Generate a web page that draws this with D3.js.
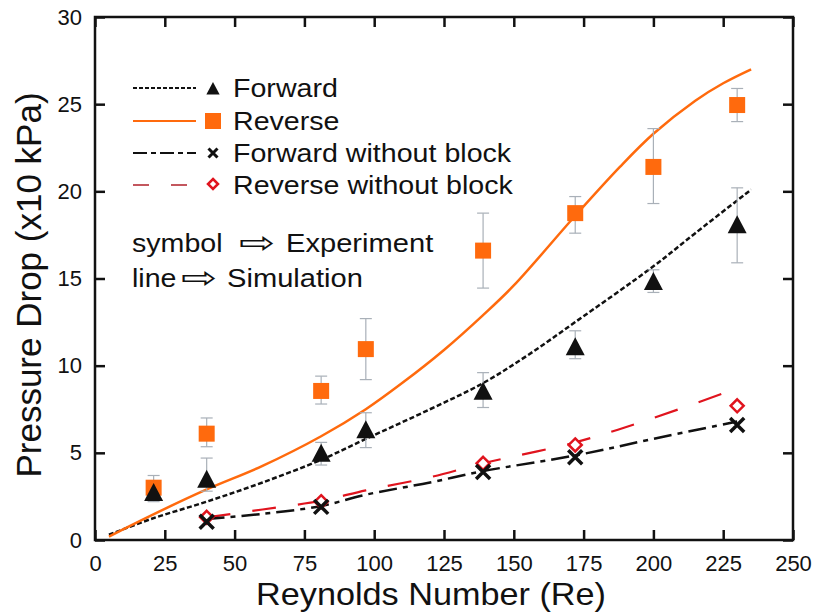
<!DOCTYPE html>
<html>
<head>
<meta charset="utf-8">
<script src="https://cdn.jsdelivr.net/npm/d3@7"></script>
<style>
    body { margin: 0; background: #fff; }
    text { font-family: "Liberation Sans", Arial, sans-serif; fill: #111; }
</style>
</head>
<body>
<script>

// Experiment points (Re, pressure drop in x10 kPa)
var reExp = [21, 40, 81, 97, 139, 172, 200, 230];
var fwdExp = [2.7, 3.45, 4.95, 6.3, 8.5, 11.05, 14.8, 18.05];
var fwdLo = [2.2, 2.8, 4.3, 5.3, 7.6, 10.4, 14.2, 15.9];
var fwdHi = [3.3, 4.7, 5.6, 7.3, 9.6, 12.0, 15.5, 20.2];
var revExp = [3.0, 6.1, 8.55, 10.95, 16.6, 18.75, 21.4, 24.95];
var revLo = [2.3, 5.35, 7.8, 9.2, 14.45, 17.6, 19.3, 24.0];
var revHi = [3.7, 7.0, 9.4, 12.7, 18.75, 19.7, 23.6, 25.9];

var reNoBlock = [40, 81, 139, 172, 230];
var fwdNoBlockExp = [1.05, 1.9, 3.9, 4.75, 6.6];
var revNoBlockExp = [1.3, 2.2, 4.4, 5.45, 7.7];

// Simulation curves
var reSimFwd = [5, 20, 40, 60, 81, 97, 120, 139, 155, 172, 200, 215, 235];
var fwdSim = [0.3, 1.2, 2.2, 3.3, 4.6, 5.8, 7.5, 9.0, 10.6, 12.5, 15.7, 17.6, 20.1];
var reSimRev = [5, 20, 40, 60, 81, 97, 110, 125, 139, 150, 172, 188, 200, 215, 225, 235];
var revSim = [0.2, 1.4, 2.9, 4.25, 5.95, 7.5, 9.0, 10.9, 12.9, 14.6, 18.6, 21.4, 23.3, 25.2, 26.2, 27.0];
var reSimNoBlock = [40, 60, 81, 97, 120, 139, 172, 200, 230];
var fwdNoBlockSim = [1.2, 1.5, 1.95, 2.6, 3.3, 3.95, 4.85, 5.8, 6.8];
var revNoBlockSim = [1.3, 1.75, 2.25, 2.85, 3.6, 4.4, 5.6, 7.0, 8.7];

var xTicks = [0, 25, 50, 75, 100, 125, 150, 175, 200, 225, 250];
var yTicks = [0, 5, 10, 15, 20, 25, 30];

var legendLabels = ["Forward", "Reverse", "Forward without block", "Reverse without block"];
var noteWords = [["symbol", "Experiment"], ["line", "Simulation"]];

var orange = "#ff6a0d", red = "#e0141e", errColor = "#a9b0b8";

function drawChart() {

    ////////////////////////////
    // SVG viewport and scales
    var width = 815, height = 612;
    var pLeft = 95, pRight = 793, pTop = 17, pBottom = 540;

    var svg = d3.select("body").append("svg")
        .attr("width", width)
        .attr("height", height);

    var x = d3.scaleLinear().domain([0, 250]).range([pLeft, pRight]);
    var y = d3.scaleLinear().domain([0, 30]).range([pBottom, pTop]);

    ////////////////////////////
    // Axes (ticks pointing inward on all four sides)
    var tickLen = 10;
    svg.append("g").attr("transform", "translate(0," + pBottom + ")")
        .call(d3.axisBottom(x).tickValues(xTicks).tickSizeInner(-tickLen).tickSizeOuter(0).tickPadding(15));
    svg.append("g").attr("transform", "translate(0," + pTop + ")")
        .call(d3.axisTop(x).tickValues(xTicks).tickSizeInner(-tickLen).tickSizeOuter(0).tickFormat(""));
    svg.append("g").attr("transform", "translate(" + pLeft + ",0)")
        .call(d3.axisLeft(y).tickValues(yTicks).tickSizeInner(-tickLen).tickSizeOuter(0).tickPadding(13));
    svg.append("g").attr("transform", "translate(" + pRight + ",0)")
        .call(d3.axisRight(y).tickValues(yTicks).tickSizeInner(-tickLen).tickSizeOuter(0).tickFormat(""));

    svg.selectAll(".domain").remove();
    svg.selectAll(".tick line").attr("stroke", "#111").attr("stroke-width", 2.5);
    svg.selectAll(".tick text")
        .style("font-family", "Liberation Sans, Arial, sans-serif")
        .style("font-size", "22px")
        .attr("fill", "#222");

    // frame
    svg.append("rect")
        .attr("x", pLeft).attr("y", pTop)
        .attr("width", pRight - pLeft).attr("height", pBottom - pTop)
        .attr("fill", "none").attr("stroke", "#111").attr("stroke-width", 2.5);

    // axis titles
    svg.append("text")
        .attr("transform", "translate(431,605) scale(1.07,1)")
        .attr("text-anchor", "middle")
        .style("font-size", "32px")
        .text("Reynolds Number (Re)");

    svg.append("text")
        .attr("transform", "translate(41,285) rotate(-90)")
        .attr("text-anchor", "middle")
        .style("font-size", "35px")
        .text("Pressure Drop (x10 kPa)");

    ////////////////////////////
    // Simulation lines
    function simLine(res, vals) {
        return d3.line()
            .x(function(d, i) { return x(res[i]); })
            .y(function(d) { return y(d); })
            .curve(d3.curveCatmullRom.alpha(0.5))(vals);
    }

    var lineStyles = [
        { res: reSimNoBlock, vals: revNoBlockSim, color: red, w: 2.2, dash: "24,22" },
        { res: reSimNoBlock, vals: fwdNoBlockSim, color: "#111", w: 2.5, dash: "18,6,5,6" },
        { res: reSimFwd, vals: fwdSim, color: "#111", w: 2.5, dash: "5,2.5" },
        { res: reSimRev, vals: revSim, color: orange, w: 2.5, dash: null }
    ];

    lineStyles.forEach(function(s) {
        svg.append("path")
            .attr("d", simLine(s.res, s.vals))
            .attr("fill", "none")
            .attr("stroke", s.color)
            .attr("stroke-width", s.w)
            .attr("stroke-dasharray", s.dash);
    });

    ////////////////////////////
    // Error bars
    function errorBars(vals, lo, hi) {
        var g = svg.append("g").attr("stroke", errColor).attr("stroke-width", 1.2);
        vals.forEach(function(v, i) {
            var cx = x(reExp[i]);
            g.append("line").attr("x1", cx).attr("x2", cx).attr("y1", y(lo[i])).attr("y2", y(hi[i]));
            g.append("line").attr("x1", cx - 6).attr("x2", cx + 6).attr("y1", y(lo[i])).attr("y2", y(lo[i]));
            g.append("line").attr("x1", cx - 6).attr("x2", cx + 6).attr("y1", y(hi[i])).attr("y2", y(hi[i]));
        });
    }
    errorBars(revExp, revLo, revHi);
    errorBars(fwdExp, fwdLo, fwdHi);

    ////////////////////////////
    // Markers
    function square(g, cx, cy) {
        g.append("rect").attr("x", cx - 8).attr("y", cy - 8)
            .attr("width", 16).attr("height", 16).attr("fill", orange);
    }
    function triangle(g, cx, cy, s) {
        g.append("path")
            .attr("d", "M" + cx + "," + (cy - s) + "L" + (cx + s * 0.95) + "," + (cy + s * 0.8) +
                       "L" + (cx - s * 0.95) + "," + (cy + s * 0.8) + "Z")
            .attr("fill", "#111");
    }
    function cross(g, cx, cy, s, w) {
        g.append("path")
            .attr("d", "M" + (cx - s) + "," + (cy - s) + "L" + (cx + s) + "," + (cy + s) +
                       "M" + (cx - s) + "," + (cy + s) + "L" + (cx + s) + "," + (cy - s))
            .attr("stroke", "#111").attr("stroke-width", w).attr("fill", "none");
    }
    function diamond(g, cx, cy, s) {
        g.append("path")
            .attr("d", "M" + cx + "," + (cy - s) + "L" + (cx + s) + "," + cy +
                       "L" + cx + "," + (cy + s) + "L" + (cx - s) + "," + cy + "Z")
            .attr("fill", "#fff").attr("stroke", red).attr("stroke-width", 2.5);
    }

    var marks = svg.append("g");
    revExp.forEach(function(v, i) { square(marks, x(reExp[i]), y(v)); });
    fwdExp.forEach(function(v, i) { triangle(marks, x(reExp[i]), y(v), 10); });
    revNoBlockExp.forEach(function(v, i) { diamond(marks, x(reNoBlock[i]), y(v), 6.5); });
    fwdNoBlockExp.forEach(function(v, i) { cross(marks, x(reNoBlock[i]), y(v), 7, 3.5); });

    ////////////////////////////
    // Legend
    var legX1 = 133, legX2 = 196, legMark = 213, legText = 233;
    var legRows = [88, 121, 153, 185];
    var legend = svg.append("g");

    legendLabels.forEach(function(lab, i) {
        var ly = legRows[i];
        var st = lineStyles[[2, 3, 1, 0][i]];
        legend.append("line")
            .attr("x1", legX1).attr("x2", legX2).attr("y1", ly).attr("y2", ly)
            .attr("stroke", i === 3 ? "#b0202a" : st.color)
            .attr("stroke-width", i === 3 ? 1.5 : 2)
            .attr("stroke-dasharray", i === 0 ? "4,2" : i === 2 ? "14,4,5,4" : i === 3 ? "16,22" : null);
        if (i === 0) triangle(legend, legMark, ly + 1, 7);
        if (i === 1) square(legend, legMark, ly);
        if (i === 2) cross(legend, legMark, ly, 4.5, 3);
        if (i === 3) diamond(legend, legMark, ly - 1, 5);
        legend.append("text")
            .attr("transform", "translate(" + legText + "," + (ly + 9) + ") scale(1.1,1)")
            .style("font-size", "26px")
            .text(lab);
    });

    // "symbol => Experiment" / "line => Simulation" notes
    var noteX = [[132, 239, 286], [132, 181, 227]];
    noteWords.forEach(function(w, i) {
        var by = 252 + i * 35;
        legend.append("text")
            .attr("transform", "translate(" + noteX[i][0] + "," + by + ") scale(1.1,1)")
            .style("font-size", "26px")
            .text(w[0]);
        legend.append("text")
            .attr("transform", "translate(" + noteX[i][1] + "," + (by + 1) + ") scale(1.45,1)")
            .style("font-family", "DejaVu Sans, sans-serif")
            .style("font-size", "30px")
            .text("\u21E8");
        legend.append("text")
            .attr("transform", "translate(" + noteX[i][2] + "," + by + ") scale(1.12,1)")
            .style("font-size", "26px")
            .text(w[1]);
    });
}

drawChart();

</script>
</body>
</html>
